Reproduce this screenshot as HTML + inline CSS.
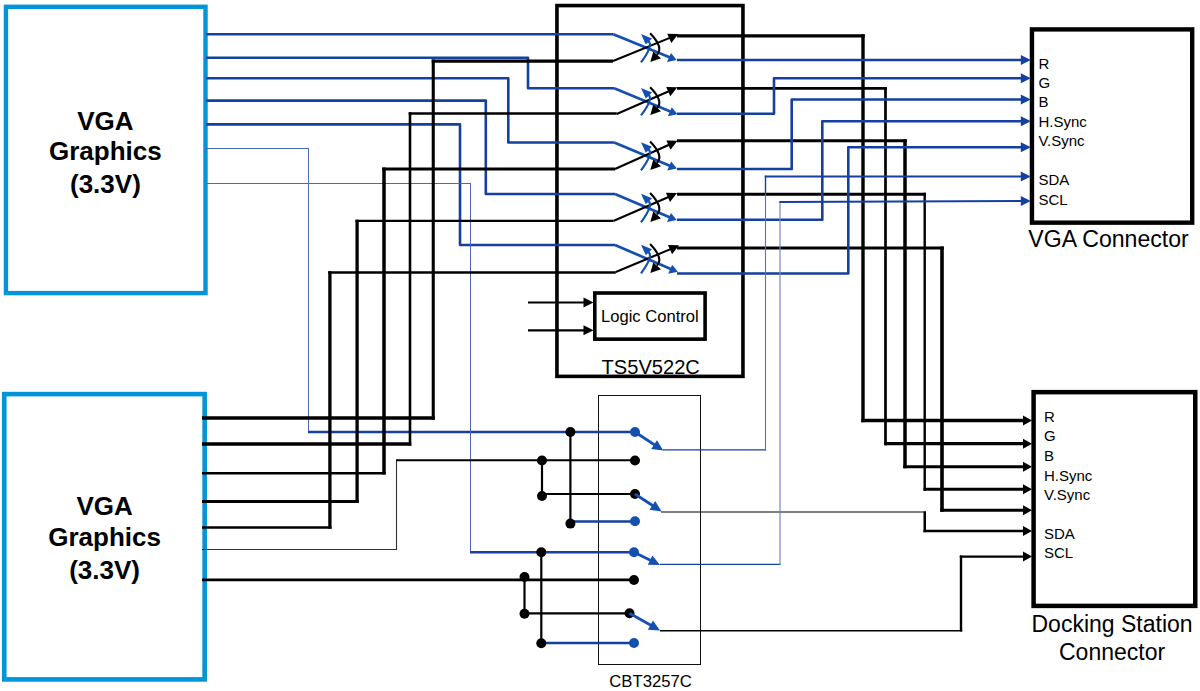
<!DOCTYPE html>
<html><head><meta charset="utf-8"><style>
html,body{margin:0;padding:0;background:#fff;width:1200px;height:691px;overflow:hidden}
svg{display:block}
text{font-family:"Liberation Sans",sans-serif}
</style></head><body>
<svg width="1200" height="691" viewBox="0 0 1200 691">
<rect x="5.95" y="6.8" width="199.55" height="286.3" stroke="#0095da" stroke-width="4.4" fill="none"/>
<rect x="4.25" y="394.1" width="200.4" height="285.3" stroke="#0095da" stroke-width="4.6" fill="none"/>
<rect x="556.95" y="5.57" width="186" height="370.8" stroke="#000" stroke-width="3.6" fill="none"/>
<rect x="594.8" y="293" width="110.3" height="46.15" stroke="#000" stroke-width="3.6" fill="none"/>
<rect x="1031.95" y="29.4" width="160.25" height="193.26" stroke="#000" stroke-width="4.4" fill="none"/>
<rect x="1033.6" y="392.15" width="161.65" height="213.75" stroke="#000" stroke-width="4.5" fill="none"/>
<rect x="598.5" y="395.5" width="102" height="269" stroke="#111" stroke-width="1" fill="none"/>
<path d="M206,34.3 L613.3,34.3" stroke="#1540a0" stroke-width="2.6" fill="none" stroke-linejoin="round" stroke-linecap="butt" />
<path d="M206,57.8 L528,57.8 L528,88.3 L614.2,88.3" stroke="#1540a0" stroke-width="2.6" fill="none" stroke-linejoin="round" stroke-linecap="butt" />
<path d="M206,78.3 L508.3,78.3 L508.3,142.5 L614.2,142.5" stroke="#1540a0" stroke-width="2.6" fill="none" stroke-linejoin="round" stroke-linecap="butt" />
<path d="M206,100.6 L485.8,100.6 L485.8,194 L615,194" stroke="#1540a0" stroke-width="2.6" fill="none" stroke-linejoin="round" stroke-linecap="butt" />
<path d="M206,124.4 L460,124.4 L460,245 L615,245" stroke="#1540a0" stroke-width="2.6" fill="none" stroke-linejoin="round" stroke-linecap="butt" />
<path d="M206.0,148.5 L309.0,148.5" stroke="#4a69b4" stroke-width="1" fill="none" stroke-linejoin="round" stroke-linecap="butt" />
<path d="M308.5,148.0 L308.5,432.0" stroke="#4a69b4" stroke-width="1" fill="none" stroke-linejoin="round" stroke-linecap="butt" />
<path d="M308,432 L635,432" stroke="#1540a0" stroke-width="2.5" fill="none" stroke-linejoin="round" stroke-linecap="butt" />
<path d="M206.0,183.5 L471.0,183.5" stroke="#4a69b4" stroke-width="1" fill="none" stroke-linejoin="round" stroke-linecap="butt" />
<path d="M470.5,183.0 L470.5,552.3" stroke="#4a69b4" stroke-width="1" fill="none" stroke-linejoin="round" stroke-linecap="butt" />
<path d="M470,552.3 L634,552.3" stroke="#1540a0" stroke-width="2.5" fill="none" stroke-linejoin="round" stroke-linecap="butt" />
<path d="M202.0,418.1 L434.8,418.1" stroke="#000" stroke-width="3.5" fill="none" stroke-linejoin="round" stroke-linecap="butt" />
<path d="M433.25,419.85 L433.25,59.55" stroke="#000" stroke-width="3.1" fill="none" stroke-linejoin="round" stroke-linecap="butt" />
<path d="M431.7,61.2 L613.0,61.2" stroke="#000" stroke-width="3.3" fill="none" stroke-linejoin="round" stroke-linecap="butt" />
<path d="M202.0,444.0 L411.3,444.0" stroke="#000" stroke-width="3.5" fill="none" stroke-linejoin="round" stroke-linecap="butt" />
<path d="M410.0,445.75 L410.0,112.2" stroke="#000" stroke-width="2.6" fill="none" stroke-linejoin="round" stroke-linecap="butt" />
<path d="M408.7,113.5 L616.7,113.5" stroke="#000" stroke-width="2.6" fill="none" stroke-linejoin="round" stroke-linecap="butt" />
<path d="M202.0,473.3 L385.75,473.3" stroke="#000" stroke-width="2.6" fill="none" stroke-linejoin="round" stroke-linecap="butt" />
<path d="M384.0,474.6 L384.0,167.6" stroke="#000" stroke-width="3.5" fill="none" stroke-linejoin="round" stroke-linecap="butt" />
<path d="M382.25,169.1 L615.0,169.1" stroke="#000" stroke-width="3.0" fill="none" stroke-linejoin="round" stroke-linecap="butt" />
<path d="M202.0,501.6 L358.75,501.6" stroke="#000" stroke-width="3.0" fill="none" stroke-linejoin="round" stroke-linecap="butt" />
<path d="M357.1,503.1 L357.1,219.8" stroke="#000" stroke-width="3.3" fill="none" stroke-linejoin="round" stroke-linecap="butt" />
<path d="M355.45,220.9 L613.3,220.9" stroke="#000" stroke-width="2.2" fill="none" stroke-linejoin="round" stroke-linecap="butt" />
<path d="M202.0,527.4 L331.55,527.4" stroke="#000" stroke-width="2.5" fill="none" stroke-linejoin="round" stroke-linecap="butt" />
<path d="M329.9,528.65 L329.9,271.15" stroke="#000" stroke-width="3.3" fill="none" stroke-linejoin="round" stroke-linecap="butt" />
<path d="M328.25,272.4 L615.8,272.4" stroke="#000" stroke-width="2.5" fill="none" stroke-linejoin="round" stroke-linecap="butt" />
<path d="M202.0,549.5 L397.05,549.5" stroke="#333" stroke-width="1.1" fill="none" stroke-linejoin="round" stroke-linecap="butt" />
<path d="M396.5,550.05 L396.5,460.2" stroke="#333" stroke-width="1.1" fill="none" stroke-linejoin="round" stroke-linecap="butt" />
<path d="M396,460.2 L635,460.2" stroke="#000" stroke-width="2.1" fill="none" stroke-linejoin="round" stroke-linecap="butt" />
<path d="M202,579.9 L634,579.9" stroke="#000" stroke-width="2.6" fill="none" stroke-linejoin="round" stroke-linecap="butt" />
<path d="M613.3,34.3 L670.2,57.6" stroke="#1450b0" stroke-width="2.7" fill="none" stroke-linejoin="round" stroke-linecap="butt" />
<path d="M613,61 L671,37.400000000000006" stroke="#000" stroke-width="2.1" fill="none" stroke-linejoin="round" stroke-linecap="butt" />
<path d="M641,62.4 Q653.5,45.65 648.6,41.35" stroke="#1450b0" stroke-width="2.2" fill="none"/>
<polygon points="641,34.0 652,38.599999999999994 645.8,44.5" fill="#1450b0"/>
<path d="M650.1,33.3 Q663.98,47.65 657,54.65" stroke="#000" stroke-width="2.1" fill="none"/>
<polygon points="650.3,62 661,58.2 653.3,51.5" fill="#000"/>
<polygon points="678.3,34.0 667.2,33.7 671.3,43.0" fill="#000"/>
<polygon points="676.7,60 667.0,62.1 671.0,53" fill="#1450b0"/>
<path d="M614.2,88.3 L671.0,111.8" stroke="#1450b0" stroke-width="2.7" fill="none" stroke-linejoin="round" stroke-linecap="butt" />
<path d="M616.7,114 L670,90.7" stroke="#000" stroke-width="2.1" fill="none" stroke-linejoin="round" stroke-linecap="butt" />
<path d="M641,115.4 Q653.5,99.15 648.6,94.85000000000001" stroke="#1450b0" stroke-width="2.2" fill="none"/>
<polygon points="641,88.0 652,92.6 645.8,98.5" fill="#1450b0"/>
<path d="M650.1,87.3 Q663.98,101.15 657,108.15" stroke="#000" stroke-width="2.1" fill="none"/>
<polygon points="650.3,115 661,111.2 653.3,104.5" fill="#000"/>
<polygon points="677.3,87.3 666.2,87.0 670.3,96.3" fill="#000"/>
<polygon points="677.5,114.2 667.8,116.3 671.8,107.2" fill="#1450b0"/>
<path d="M614.2,142.5 L670.4,166.0" stroke="#1450b0" stroke-width="2.7" fill="none" stroke-linejoin="round" stroke-linecap="butt" />
<path d="M615,169 L670.2,144.2" stroke="#000" stroke-width="2.1" fill="none" stroke-linejoin="round" stroke-linecap="butt" />
<path d="M641,170.4 Q653.5,153.75 648.6,149.45" stroke="#1450b0" stroke-width="2.2" fill="none"/>
<polygon points="641,142.2 652,146.8 645.8,152.7" fill="#1450b0"/>
<path d="M650.1,141.5 Q663.98,155.75 657,162.75" stroke="#000" stroke-width="2.1" fill="none"/>
<polygon points="650.3,170 661,166.2 653.3,159.5" fill="#000"/>
<polygon points="677.5,140.8 666.4000000000001,140.5 670.5,149.8" fill="#000"/>
<polygon points="676.9,168.4 667.1999999999999,170.5 671.1999999999999,161.4" fill="#1450b0"/>
<path d="M615,194 L670.2,217.6" stroke="#1450b0" stroke-width="2.7" fill="none" stroke-linejoin="round" stroke-linecap="butt" />
<path d="M613.3,221 L669.7,196.5" stroke="#000" stroke-width="2.1" fill="none" stroke-linejoin="round" stroke-linecap="butt" />
<path d="M641,222.4 Q653.5,205.5 648.6,201.2" stroke="#1450b0" stroke-width="2.2" fill="none"/>
<polygon points="641,193.7 652,198.3 645.8,204.2" fill="#1450b0"/>
<path d="M650.1,193 Q663.98,207.5 657,214.5" stroke="#000" stroke-width="2.1" fill="none"/>
<polygon points="650.3,222 661,218.2 653.3,211.5" fill="#000"/>
<polygon points="677.0,193.10000000000002 665.9000000000001,192.8 670.0,202.10000000000002" fill="#000"/>
<polygon points="676.7,220 667.0,222.1 671.0,213" fill="#1450b0"/>
<path d="M615,245 L671.4,269.3" stroke="#1450b0" stroke-width="2.7" fill="none" stroke-linejoin="round" stroke-linecap="butt" />
<path d="M615.8,272 L671.75,248.6" stroke="#000" stroke-width="2.1" fill="none" stroke-linejoin="round" stroke-linecap="butt" />
<path d="M641,273.4 Q653.5,256.5 648.6,252.2" stroke="#1450b0" stroke-width="2.2" fill="none"/>
<polygon points="641,244.7 652,249.3 645.8,255.2" fill="#1450b0"/>
<path d="M650.1,244 Q663.98,258.5 657,265.5" stroke="#000" stroke-width="2.1" fill="none"/>
<polygon points="650.3,273 661,269.2 653.3,262.5" fill="#000"/>
<polygon points="679.05,245.20000000000002 667.95,244.9 672.05,254.20000000000002" fill="#000"/>
<polygon points="677.9,271.7 668.1999999999999,273.8 672.1999999999999,264.7" fill="#1450b0"/>
<path d="M677.0,35.8 L864.7,35.8" stroke="#000" stroke-width="3.3" fill="none" stroke-linejoin="round" stroke-linecap="butt" />
<path d="M863.0,34.15 L863.0,422.15" stroke="#000" stroke-width="3.4" fill="none" stroke-linejoin="round" stroke-linecap="butt" />
<path d="M861.3,420.5 L1024.0,420.5" stroke="#000" stroke-width="3.3" fill="none" stroke-linejoin="round" stroke-linecap="butt" />
<polygon points="1032,420.5 1023,415.5 1023,425.5" fill="#000"/>
<path d="M677,60 L1021,60" stroke="#1540a0" stroke-width="2.6" fill="none" stroke-linejoin="round" stroke-linecap="butt" />
<polygon points="1030.8,60 1020.8,55 1020.8,65" fill="#1540a0"/>
<path d="M677.0,88.3 L886.85,88.3" stroke="#000" stroke-width="2.8" fill="none" stroke-linejoin="round" stroke-linecap="butt" />
<path d="M885.5,86.9 L885.5,445.35" stroke="#000" stroke-width="2.7" fill="none" stroke-linejoin="round" stroke-linecap="butt" />
<path d="M884.15,443.7 L1024.0,443.7" stroke="#000" stroke-width="3.3" fill="none" stroke-linejoin="round" stroke-linecap="butt" />
<polygon points="1032,443.7 1023,438.7 1023,448.7" fill="#000"/>
<path d="M677,113.8 L774,113.8 L774,78.3 L1021,78.3" stroke="#1540a0" stroke-width="2.6" fill="none" stroke-linejoin="round" stroke-linecap="butt" />
<polygon points="1030.8,78.3 1020.8,73.3 1020.8,83.3" fill="#1540a0"/>
<path d="M677.0,140.8 L906.75,140.8" stroke="#000" stroke-width="3.0" fill="none" stroke-linejoin="round" stroke-linecap="butt" />
<path d="M905.0,139.3 L905.0,468.3" stroke="#000" stroke-width="3.5" fill="none" stroke-linejoin="round" stroke-linecap="butt" />
<path d="M903.25,466.8 L1024.0,466.8" stroke="#000" stroke-width="3.0" fill="none" stroke-linejoin="round" stroke-linecap="butt" />
<polygon points="1032,466.8 1023,461.8 1023,471.8" fill="#000"/>
<path d="M677,169 L791.7,169 L791.7,99.5 L1021,99.5" stroke="#1540a0" stroke-width="2.6" fill="none" stroke-linejoin="round" stroke-linecap="butt" />
<polygon points="1030.8,99.5 1020.8,94.5 1020.8,104.5" fill="#1540a0"/>
<path d="M677.0,194.2 L925.9,194.2" stroke="#000" stroke-width="3.0" fill="none" stroke-linejoin="round" stroke-linecap="butt" />
<path d="M924.7,192.7 L924.7,490.8" stroke="#000" stroke-width="2.4" fill="none" stroke-linejoin="round" stroke-linecap="butt" />
<path d="M923.5,489.3 L1024.0,489.3" stroke="#000" stroke-width="3.0" fill="none" stroke-linejoin="round" stroke-linecap="butt" />
<polygon points="1032,489.3 1023,484.3 1023,494.3" fill="#000"/>
<path d="M677,219.7 L822.3,219.7 L822.3,121.3 L1021,121.3" stroke="#1540a0" stroke-width="2.6" fill="none" stroke-linejoin="round" stroke-linecap="butt" />
<polygon points="1030.8,121.3 1020.8,116.3 1020.8,126.3" fill="#1540a0"/>
<path d="M677.0,248.0 L943.8,248.0" stroke="#000" stroke-width="3.0" fill="none" stroke-linejoin="round" stroke-linecap="butt" />
<path d="M942.0,246.5 L942.0,511.7" stroke="#000" stroke-width="3.6" fill="none" stroke-linejoin="round" stroke-linecap="butt" />
<path d="M940.2,510.2 L1024.0,510.2" stroke="#000" stroke-width="3.0" fill="none" stroke-linejoin="round" stroke-linecap="butt" />
<polygon points="1032,510.2 1023,505.2 1023,515.2" fill="#000"/>
<path d="M677,273.5 L848.3,273.5 L848.3,147.3 L1021,147.3" stroke="#1540a0" stroke-width="2.6" fill="none" stroke-linejoin="round" stroke-linecap="butt" />
<polygon points="1030.8,147.3 1020.8,142.3 1020.8,152.3" fill="#1540a0"/>
<path d="M570.4,432 L570.4,523.6" stroke="#000" stroke-width="2.2" fill="none" stroke-linejoin="round" stroke-linecap="butt" />
<path d="M542,460.5 L542,496" stroke="#000" stroke-width="2.2" fill="none" stroke-linejoin="round" stroke-linecap="butt" />
<path d="M542,494 L635,494" stroke="#000" stroke-width="2.2" fill="none" stroke-linejoin="round" stroke-linecap="butt" />
<path d="M570.4,521.5 L635,521.5" stroke="#1540a0" stroke-width="2.5" fill="none" stroke-linejoin="round" stroke-linecap="butt" />
<path d="M524.5,577 L524.5,613.5" stroke="#000" stroke-width="2.2" fill="none" stroke-linejoin="round" stroke-linecap="butt" />
<path d="M541.3,552 L541.3,643" stroke="#000" stroke-width="2.2" fill="none" stroke-linejoin="round" stroke-linecap="butt" />
<path d="M524.5,613.3 L629.5,613.3" stroke="#000" stroke-width="2.2" fill="none" stroke-linejoin="round" stroke-linecap="butt" />
<path d="M541.3,643 L634,643" stroke="#1540a0" stroke-width="2.5" fill="none" stroke-linejoin="round" stroke-linecap="butt" />
<circle cx="570.4" cy="432" r="5" fill="#000"/>
<circle cx="635" cy="432" r="5" fill="#1450b0"/>
<circle cx="542" cy="460.5" r="5" fill="#000"/>
<circle cx="635" cy="460.5" r="5" fill="#000"/>
<circle cx="542" cy="496" r="5" fill="#000"/>
<circle cx="635" cy="494" r="5" fill="#000"/>
<circle cx="570.4" cy="523.6" r="5" fill="#000"/>
<circle cx="635" cy="521.3" r="5" fill="#1450b0"/>
<circle cx="541.3" cy="552.3" r="5" fill="#000"/>
<circle cx="634" cy="552.3" r="5" fill="#1450b0"/>
<circle cx="524.5" cy="577" r="5" fill="#000"/>
<circle cx="634" cy="580" r="5" fill="#000"/>
<circle cx="524.5" cy="613.7" r="5" fill="#000"/>
<circle cx="629.5" cy="613.3" r="5" fill="#000"/>
<circle cx="541.3" cy="643.3" r="5" fill="#000"/>
<circle cx="634" cy="643" r="5" fill="#1450b0"/>
<path d="M635,432 L655.7789991890779,445.656868724977" stroke="#1450b0" stroke-width="2.8" fill="none" stroke-linejoin="round" stroke-linecap="butt" />
<polygon points="663.3,450.6 651.2516342721931,448.90386224350465 656.9636970788863,440.2129279731059" fill="#1450b0"/>
<path d="M635,494 L654.0682712475925,506.4732300642146" stroke="#1450b0" stroke-width="2.8" fill="none" stroke-linejoin="round" stroke-linecap="butt" />
<polygon points="661.6,511.4 649.5479755619372,509.73005780209775 655.241131932178,501.0267267993158" fill="#1450b0"/>
<path d="M634,552.3 L651.9131776027239,561.0498982905613" stroke="#1450b0" stroke-width="2.8" fill="none" stroke-linejoin="round" stroke-linecap="butt" />
<polygon points="660,565 647.8338249712089,564.8444841846677 652.3983869465604,555.4997116367041" fill="#1450b0"/>
<path d="M629.5,613.3 L652.1606298014507,626.0791092650804" stroke="#1450b0" stroke-width="2.8" fill="none" stroke-linejoin="round" stroke-linecap="butt" />
<polygon points="660,630.5 647.8642551104862,629.62610299426 652.9728399597267,620.5672752092698" fill="#1450b0"/>
<path d="M663,449.8 L766.1,449.8" stroke="#1540a0" stroke-width="1.3" fill="none" stroke-linejoin="round" stroke-linecap="butt" />
<path d="M765.5,450.4 L765.5,194" stroke="#5873b8" stroke-width="1.1" fill="none" stroke-linejoin="round" stroke-linecap="butt" />
<path d="M765.5,194.0 L765.5,175.6" stroke="#1540a0" stroke-width="1.4" fill="none" stroke-linejoin="round" stroke-linecap="butt" />
<path d="M764.8,176.5 L1021.0,176.5" stroke="#1540a0" stroke-width="1.8" fill="none" stroke-linejoin="round" stroke-linecap="butt" />
<polygon points="1030.8,176.5 1020.8,171.5 1020.8,181.5" fill="#1540a0"/>
<path d="M661.0,512.0 L926.0,512.0" stroke="#000" stroke-width="1.1" fill="none" stroke-linejoin="round" stroke-linecap="butt" />
<path d="M924.75,511.45 L924.75,532.15" stroke="#000" stroke-width="2.5" fill="none" stroke-linejoin="round" stroke-linecap="butt" />
<path d="M923.5,530.9 L1024.0,530.9" stroke="#000" stroke-width="2.5" fill="none" stroke-linejoin="round" stroke-linecap="butt" />
<polygon points="1032,530.9 1023,525.9 1023,535.9" fill="#000"/>
<path d="M660,564.4 L780.6,564.4" stroke="#1540a0" stroke-width="1.3" fill="none" stroke-linejoin="round" stroke-linecap="butt" />
<path d="M780,565 L780,202" stroke="#7088c4" stroke-width="1.2" fill="none" stroke-linejoin="round" stroke-linecap="butt" />
<path d="M779.4,202 L1021,201" stroke="#1540a0" stroke-width="1.8" fill="none" stroke-linejoin="round" stroke-linecap="butt" />
<polygon points="1030.8,201 1020.8,196 1020.8,206" fill="#1540a0"/>
<path d="M660.0,630.7 L962.2,630.7" stroke="#000" stroke-width="1.6" fill="none" stroke-linejoin="round" stroke-linecap="butt" />
<path d="M961.0,631.5 L961.0,555.5" stroke="#000" stroke-width="2.4" fill="none" stroke-linejoin="round" stroke-linecap="butt" />
<path d="M959.8,556.6 L1024.0,556.6" stroke="#000" stroke-width="2.2" fill="none" stroke-linejoin="round" stroke-linecap="butt" />
<polygon points="1032,556.6 1023,551.6 1023,561.6" fill="#000"/>
<path d="M528,302.5 L585,302.5" stroke="#000" stroke-width="2.2" fill="none" stroke-linejoin="round" stroke-linecap="butt" />
<polygon points="593.5,302.5 583.5,297.5 583.5,307.5" fill="#000"/>
<path d="M528,330.3 L585,330.3" stroke="#000" stroke-width="2.2" fill="none" stroke-linejoin="round" stroke-linecap="butt" />
<polygon points="593.5,330.3 583.5,325.3 583.5,335.3" fill="#000"/>
<text x="105.4" y="129.7" font-size="26" font-weight="bold" text-anchor="middle" fill="#000">VGA</text>
<text x="105.4" y="160" font-size="26" font-weight="bold" text-anchor="middle" fill="#000">Graphics</text>
<text x="105.4" y="192.9" font-size="26" font-weight="bold" text-anchor="middle" fill="#000">(3.3V)</text>
<text x="104.6" y="515.3" font-size="26" font-weight="bold" text-anchor="middle" fill="#000">VGA</text>
<text x="104.6" y="545.8" font-size="26" font-weight="bold" text-anchor="middle" fill="#000">Graphics</text>
<text x="104.6" y="578.8" font-size="26" font-weight="bold" text-anchor="middle" fill="#000">(3.3V)</text>
<text x="1038.4" y="68.8" font-size="15" font-weight="normal" text-anchor="start" fill="#000">R</text>
<text x="1038.4" y="87.5" font-size="15" font-weight="normal" text-anchor="start" fill="#000">G</text>
<text x="1038.4" y="106.9" font-size="15" font-weight="normal" text-anchor="start" fill="#000">B</text>
<text x="1038.4" y="127.2" font-size="15" font-weight="normal" text-anchor="start" fill="#000">H.Sync</text>
<text x="1038.4" y="146.3" font-size="15" font-weight="normal" text-anchor="start" fill="#000">V.Sync</text>
<text x="1038.4" y="185" font-size="15" font-weight="normal" text-anchor="start" fill="#000">SDA</text>
<text x="1038.4" y="205.3" font-size="15" font-weight="normal" text-anchor="start" fill="#000">SCL</text>
<text x="1044" y="421.8" font-size="15" font-weight="normal" text-anchor="start" fill="#000">R</text>
<text x="1044" y="441.2" font-size="15" font-weight="normal" text-anchor="start" fill="#000">G</text>
<text x="1044" y="461" font-size="15" font-weight="normal" text-anchor="start" fill="#000">B</text>
<text x="1044" y="481.4" font-size="15" font-weight="normal" text-anchor="start" fill="#000">H.Sync</text>
<text x="1044" y="500.2" font-size="15" font-weight="normal" text-anchor="start" fill="#000">V.Sync</text>
<text x="1044" y="539.2" font-size="15" font-weight="normal" text-anchor="start" fill="#000">SDA</text>
<text x="1044" y="557.8" font-size="15" font-weight="normal" text-anchor="start" fill="#000">SCL</text>
<text x="1028.3" y="246.8" font-size="23.1" font-weight="normal" text-anchor="start" fill="#000">VGA Connector</text>
<text x="1031.5" y="632.3" font-size="23" font-weight="normal" text-anchor="start" fill="#000">Docking Station</text>
<text x="1059" y="659.5" font-size="23" font-weight="normal" text-anchor="start" fill="#000">Connector</text>
<text x="601" y="321.5" font-size="16.6" font-weight="normal" text-anchor="start" fill="#000">Logic Control</text>
<text x="601.6" y="373.5" font-size="20.1" font-weight="normal" text-anchor="start" fill="#000">TS5V522C</text>
<text x="609.3" y="686.5" font-size="16.7" font-weight="normal" text-anchor="start" fill="#000">CBT3257C</text>
</svg>
</body></html>
